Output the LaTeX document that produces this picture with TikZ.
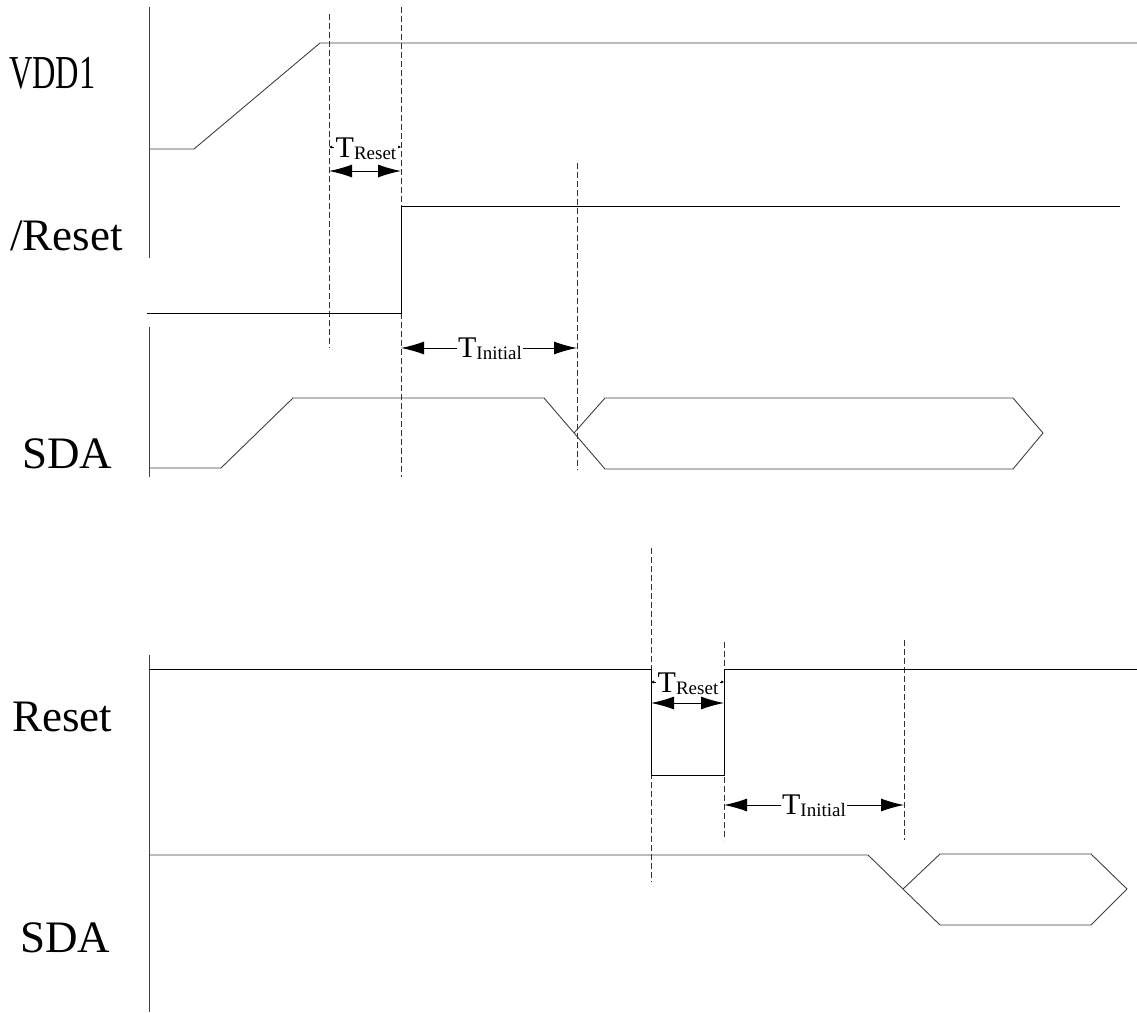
\documentclass[tikz,border=0pt]{standalone}
\usepackage{fontspec, graphicx}
\setmainfont{Liberation Serif}
\usetikzlibrary{arrows.meta}

\newcommand{\tsub}[1]{T\raisebox{-2pt}{\fontsize{19}{19}\selectfont #1}}

\begin{document}
\begin{tikzpicture}[x=1pt, y=-1pt,
    sig/.style={draw=black!75, line width=0.9pt},
    guide/.style={draw=black!80, dash pattern=on 6pt off 3pt, line width=0.8pt},
    span/.style={{Latex[length=23pt,width=13pt]}-{Latex[length=23pt,width=13pt]}, line width=1pt},
    tinyspan/.style={{Latex[length=3pt,width=3pt]}-{Latex[length=3pt,width=3pt]}, line width=0.5pt},
    lbl/.style={font=\fontsize{45}{50}\selectfont, inner sep=0pt, anchor=base west},
    tlbl/.style={font=\fontsize{30}{32}\selectfont, fill=white, inner sep=1.5pt, anchor=base}]
    \useasboundingbox (0,0) rectangle (1137,1012);

    % time axes
    \draw [sig] (149,7) -- (149,258);
    \draw [sig] (149,327) -- (149,477);
    \draw [sig] (149,655) -- (149,1012);

    % signal names
    \node [lbl] (vdd)  at (9,88)   {\scalebox{0.72}[1.05]{VDD1}};
    \node [lbl] (rstn) at (10,250) {/Reset};
    \node [lbl] (sdaA) at (22,468) {SDA};
    \node [lbl] (rst)  at (12,731) {Reset};
    \node [lbl] (sdaB) at (20,952) {SDA};

    % power-on sequence
    \coordinate (a1) at (329,0);
    \coordinate (a2) at (401,0);
    \coordinate (a3) at (577,0);
    \draw [guide] (a1 |- 0,14)  -- (a1 |- 0,348);
    \draw [guide] (a2 |- 0,7)   -- (a2 |- 0,477);
    \draw [guide] (a3 |- 0,163) -- (a3 |- 0,470);

    \draw [sig] (149,149) -- (194,149) -- (320,43) -- (1137,43);
    \draw [sig, draw=black] (147,313) -- (401,313) -- (401,206) -- (1120,206);
    \draw [sig] (149,468) -- (221,468) -- (293,398) -- (544,398) -- (605,469)
        -- (1013,469) -- (1043,433) -- (1013,398) -- (605,398) -- (574,433);

    \draw [tinyspan] (a1 |- 0,147) -- (a2 |- 0,147);
    \node [tlbl] (tresA) at (366,157) {\tsub{Reset}};
    \draw [span] (a1 |- 0,171) -- (a2 |- 0,171);
    \draw [span] (a2 |- 0,348) -- (a3 |- 0,348);
    \node [tlbl] (tiniA) at (490,357) {\tsub{Initial}};

    % hardware reset sequence
    \coordinate (b1) at (651,0);
    \coordinate (b2) at (724,0);
    \coordinate (b3) at (904,0);
    \draw [guide] (b1 |- 0,548) -- (b1 |- 0,882);
    \draw [guide] (b2 |- 0,642) -- (b2 |- 0,840);
    \draw [guide] (b3 |- 0,640) -- (b3 |- 0,840);

    \draw [sig, draw=black] (149,669) -- (651,669) -- (651,775) -- (724,775) -- (724,669) -- (1137,669);
    \draw [sig] (149,855) -- (868,855) -- (940,925) -- (1091,925) -- (1127,889)
        -- (1091,854) -- (940,854) -- (903,889);

    \draw [tinyspan] (b1 |- 0,682) -- (b2 |- 0,682);
    \node [tlbl] (tresB) at (688,692) {\tsub{Reset}};
    \draw [span] (b1 |- 0,703) -- (b2 |- 0,703);
    \draw [span] (b2 |- 0,805) -- (b3 |- 0,805);
    \node [tlbl] (tiniB) at (814,814) {\tsub{Initial}};
\end{tikzpicture}
\end{document}
